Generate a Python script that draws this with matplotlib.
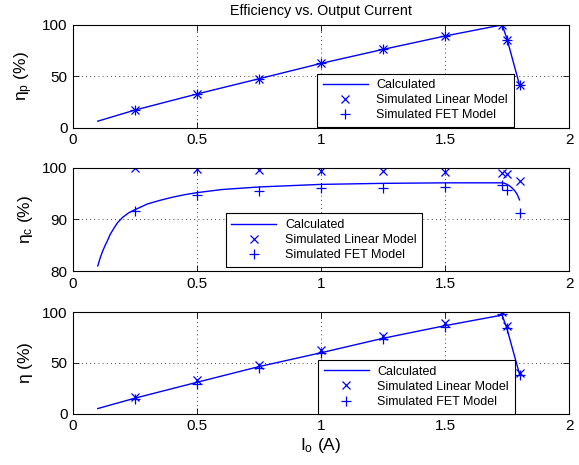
import numpy as np
import matplotlib
matplotlib.use('Agg')
import matplotlib.pyplot as plt

plt.rcParams['font.family'] = ['Liberation Sans', 'DejaVu Sans']
plt.rcParams['mathtext.fontset'] = 'custom'
plt.rcParams['mathtext.rm'] = 'Liberation Sans'
plt.rcParams['mathtext.it'] = 'Liberation Sans'
plt.rcParams['font.size'] = 10

# simulated points
x_sim = [0.25, 0.5, 0.75, 1.0, 1.25, 1.5, 1.73, 1.75, 1.8]
# calculated curve
x_calc = [0.1, 0.25, 0.5, 0.75, 1.0, 1.25, 1.5, 1.73, 1.75, 1.8]
x_calc_c = [0.1, 0.11, 0.12, 0.13, 0.14, 0.15, 0.165, 0.18, 0.2, 0.225, 0.25, 0.3,
            0.35, 0.4, 0.45, 0.5, 0.6, 0.75, 0.9, 1.0, 1.25, 1.5, 1.73, 1.74,
            1.75, 1.76, 1.77, 1.78, 1.79, 1.8]

etap_calc = [6.5, 17.3, 32.9, 47.7, 62.6, 76.2, 89.2, 100, 86, 41.5]
etap_lin = [17.5, 33, 47.6, 62.8, 76.3, 89.3, 100, 85.8, 41.5]
etap_fet = [17.3, 32.8, 47.5, 62.6, 76.1, 89.1, 99.8, 85.6, 41.2]

etac_calc = [81.0, 82.6, 83.9, 85.0, 86.0, 87.1, 88.3, 89.4, 90.4, 91.3, 91.9, 93.0,
             93.7, 94.3, 94.8, 95.2, 95.8, 96.3, 96.6, 96.8, 97.0, 97.1, 97.1, 97.0,
             96.8, 96.5, 96.1, 95.6, 94.9, 93.8]
etac_lin = [99.9, 99.7, 99.5, 99.4, 99.3, 99.2, 99.0, 98.8, 97.4]
etac_fet = [91.6, 94.7, 95.6, 96.1, 96.1, 96.2, 96.6, 95.8, 91.3]

eta_calc = [5.2, 15.4, 31, 46.4, 60, 74.2, 86.6, 97, 83, 38.9]
eta_lin = [16.7, 33, 48, 62.7, 76.5, 88.9, 100, 86.6, 40.5]
eta_fet = [14.7, 29.7, 45.4, 59.5, 73.5, 85.3, 97.7, 84, 38.2]

x_ticks = [0, 0.5, 1, 1.5, 2]
x_ticklabels = ['0', '0.5', '1', '1.5', '2']

fig = plt.figure(figsize=(5.79, 4.65), dpi=100)
boxes = [[0.126, 0.725, 0.857, 0.2215],
         [0.126, 0.417, 0.857, 0.222],
         [0.126, 0.110, 0.857, 0.219]]

panels = [
    (x_calc, etap_calc, etap_lin, etap_fet, (0, 100), [0, 50, 100], r'$\mathrm{\eta_p}$ (%)', (0.492, 0.008)),
    (x_calc_c, etac_calc, etac_lin, etac_fet, (80, 100), [80, 90, 100], r'$\mathrm{\eta_c}$ (%)', (0.308, 0.04)),
    (x_calc, eta_calc, eta_lin, eta_fet, (0, 100), [0, 50, 100], r'$\mathrm{\eta}$ (%)', (0.494, 0.003)),
]

axes = []
for box, (xc, yc, ylin, yfet, ylim, yt, ylab, legpos) in zip(boxes, panels):
    ax = fig.add_axes(box)
    ax.plot(xc, yc, '-', color='#0000ff', lw=1.0, label='Calculated')
    ax.plot(x_sim, ylin, 'x', color='#0000ff', ms=5.5, mew=0.9, label='Simulated Linear Model')
    ax.plot(x_sim, yfet, '+', color='#0000ff', ms=7, mew=0.9, label='Simulated FET Model')
    ax.set_xlim(0, 2)
    ax.set_ylim(*ylim)
    ax.set_xticks(x_ticks)
    ax.set_xticklabels(x_ticklabels)
    ax.set_yticks(yt)
    ax.grid(True, color='k', linestyle=(0, (1, 4)), lw=0.6)
    ax.tick_params(direction='in', top=True, right=True, length=4, width=0.6, labelsize=11, pad=4)
    for s in ax.spines.values():
        s.set_linewidth(0.8)
    ax.set_ylabel(ylab, fontsize=12.5, labelpad=5)
    leg = ax.legend(loc='lower left', bbox_to_anchor=legpos, fancybox=False, framealpha=1,
                    edgecolor='k', fontsize=9, handlelength=3.6, borderpad=0.45,
                    labelspacing=0.25, borderaxespad=0, handletextpad=0.7)
    leg.get_frame().set_linewidth(0.8)
    axes.append(ax)

axes[0].set_title('Efficiency vs. Output Current', fontsize=10.3, pad=7)
axes[2].set_xlabel(r'$\mathrm{I_o}$ (A)', fontsize=12.5, labelpad=2)

fig.savefig('out.png', dpi=100)
